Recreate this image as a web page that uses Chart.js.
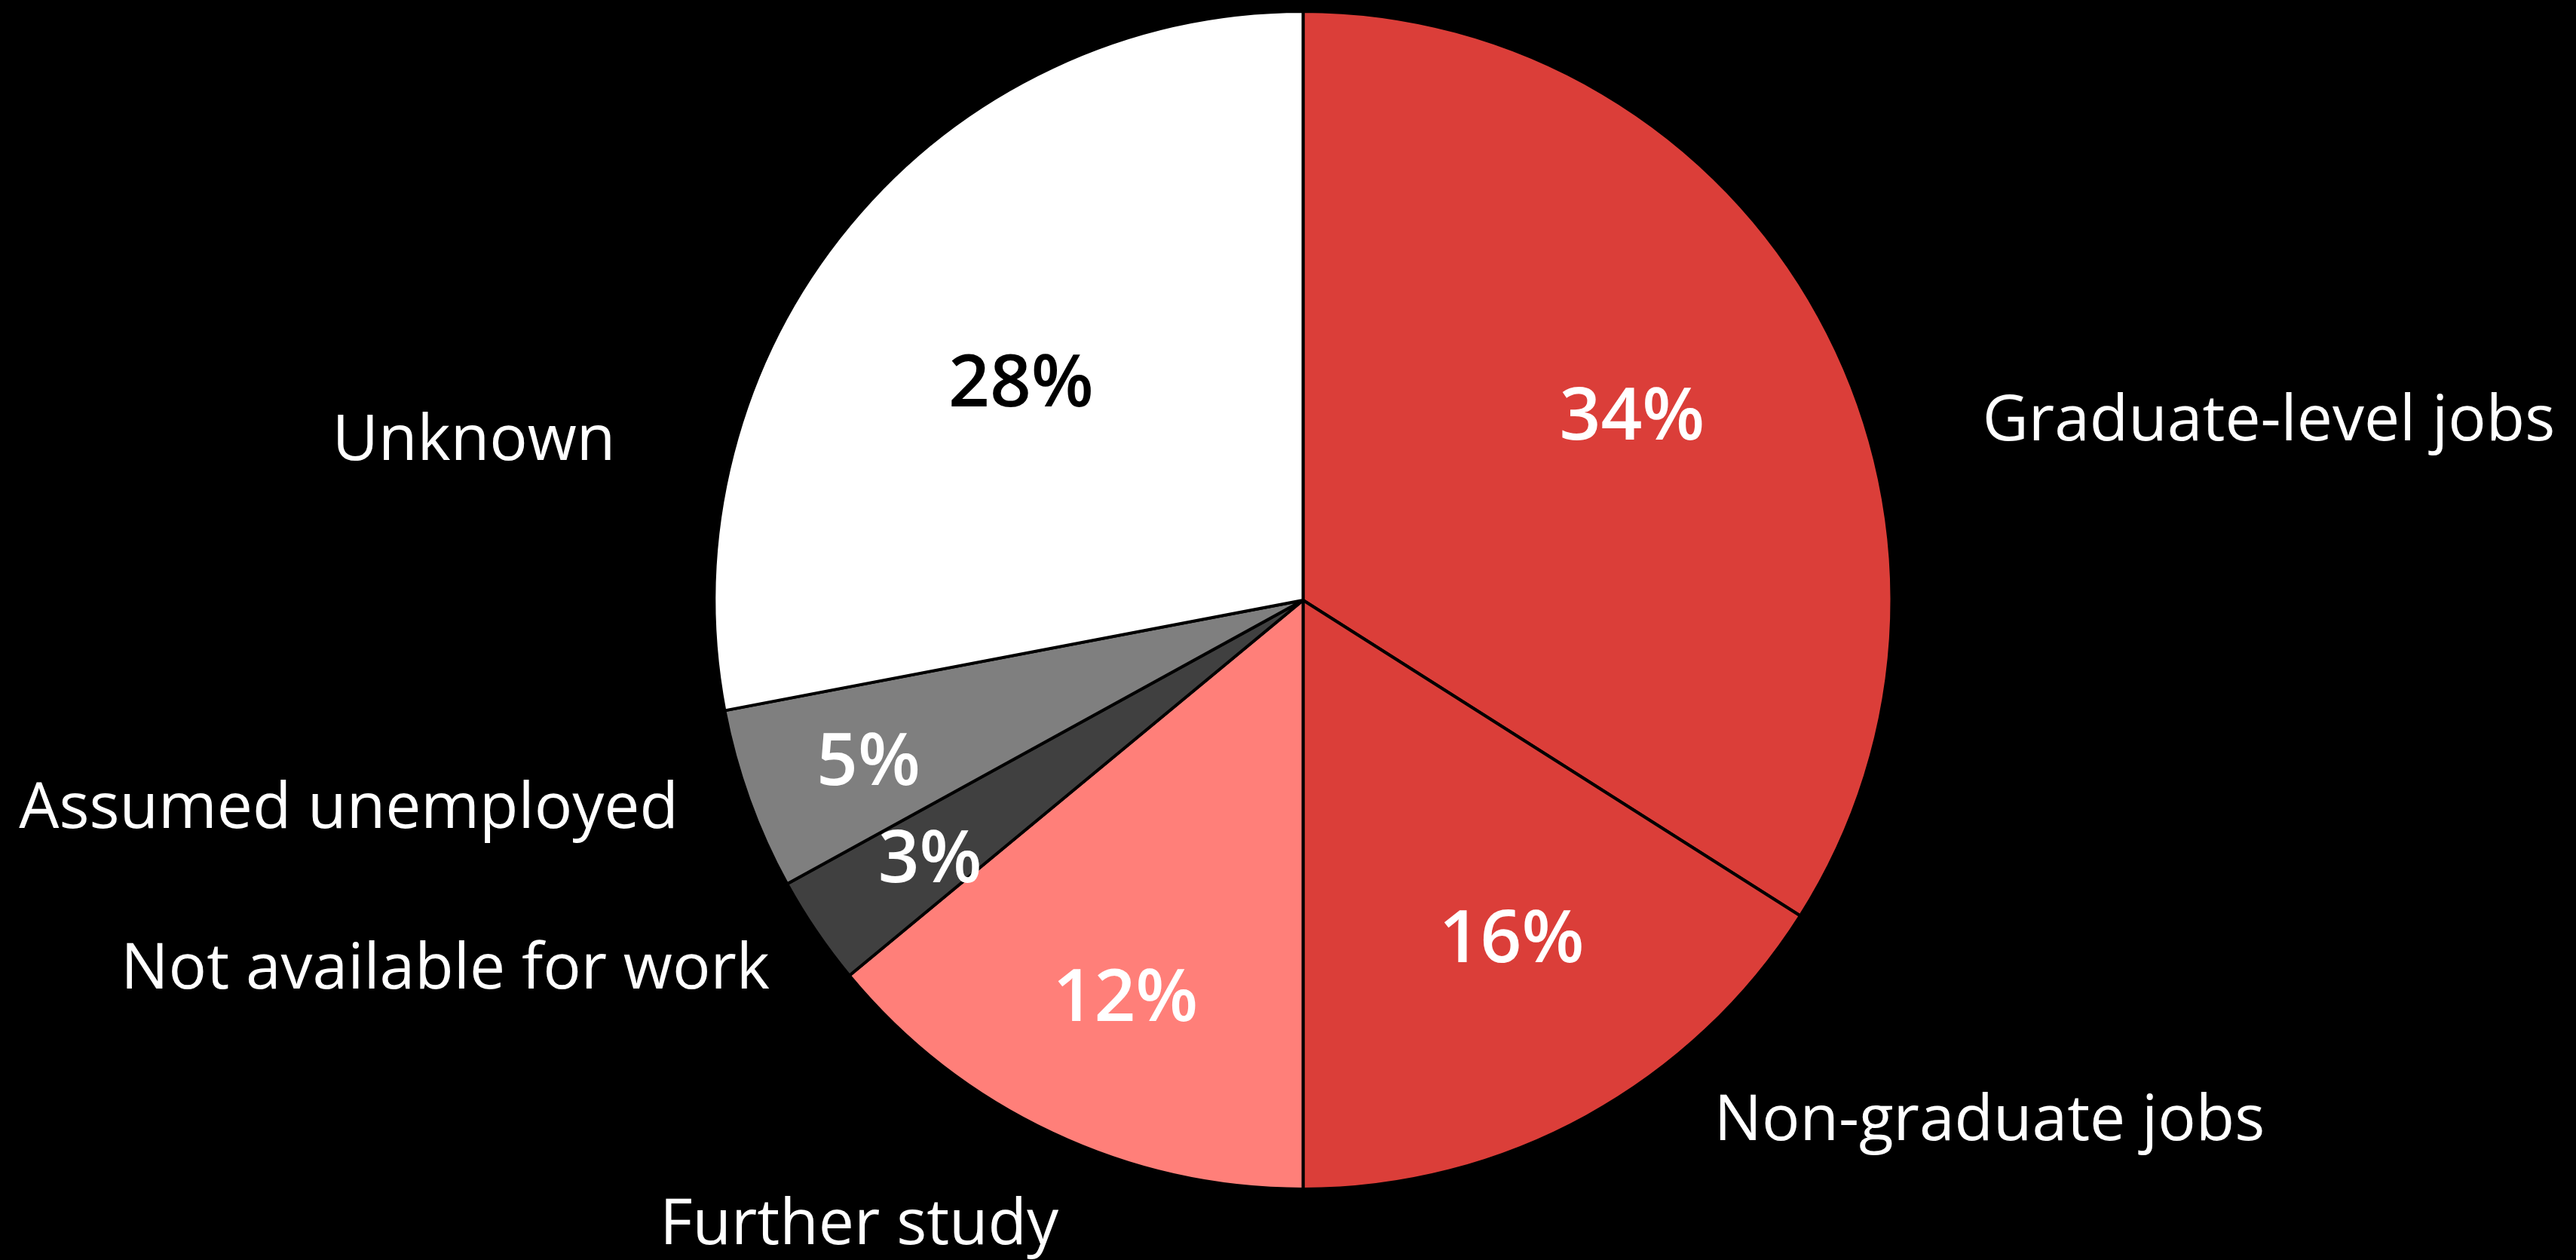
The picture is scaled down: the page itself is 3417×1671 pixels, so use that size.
<!DOCTYPE html>
<html>
<head>
<meta charset="utf-8">
<title>Graduate outcomes</title>
<script src="https://cdn.jsdelivr.net/npm/chart.js@4.4.1/dist/chart.umd.min.js"></script>
<style>
    html, body { margin: 0; padding: 0; background: #000; }
    #wrap { width: 3417px; height: 1671px; }
</style>
</head>
<body>
<div id="wrap"><canvas id="pieChart"></canvas></div>
<script>
// Data
const categories = ['Graduate-level jobs', 'Non-graduate jobs', 'Further study', 'Not available for work', 'Assumed unemployed', 'Unknown'];
const shares = [34, 16, 14, 3, 5, 28];
const shareLabels = ['34%', '16%', '12%', '3%', '5%', '28%'];

const sliceColors = ['#db3e39', '#db3e39', '#ff7f79', '#404040', '#7f7f7f', '#ffffff'];
const pctColors = ['#fff', '#fff', '#fff', '#fff', '#fff', '#000'];

// Draws the percentage inside each slice and the category name outside it
const pieLabels = {
    id: 'pieLabels',
    afterDatasetsDraw(chart, args, opts) {
        const ctx = chart.ctx;
        const arcs = chart.getDatasetMeta(0).data;
        ctx.save();
        arcs.forEach((arc, i) => {
            const p = arc.getProps(['x', 'y', 'startAngle', 'endAngle', 'outerRadius'], true);
            const mid = (p.startAngle + p.endAngle) / 2 + opts.insideTilt[i] * Math.PI / 180;
            const k = opts.insideRadius[i];

            // percentage, vertically centred on the digits
            ctx.font = '600 96px "Open Sans"';
            ctx.fillStyle = pctColors[i];
            ctx.textAlign = 'center';
            ctx.textBaseline = 'alphabetic';
            ctx.fillText(shareLabels[i],
                p.x + Math.cos(mid) * p.outerRadius * k,
                p.y + Math.sin(mid) * p.outerRadius * k + 34);

            // category name
            const o = opts.outside[i];
            ctx.font = '84px "Open Sans"';
            ctx.fillStyle = '#fff';
            ctx.textAlign = o.align;
            ctx.fillText(chart.data.labels[i], p.x + o.dx * p.outerRadius, p.y + o.dy * p.outerRadius);
        });
        ctx.restore();
    }
};

new Chart(document.getElementById('pieChart'), {
    type: 'pie',
    data: {
        labels: categories,
        datasets: [{
            data: shares,
            backgroundColor: sliceColors,
            borderColor: '#000',
            borderWidth: 4
        }]
    },
    options: {
        responsive: true,
        maintainAspectRatio: false,
        devicePixelRatio: 1,
        animation: false,
        layout: {
            padding: { top: 13, bottom: 92, left: 40, right: 0 }
        },
        plugins: {
            legend: { display: false },
            tooltip: { enabled: false },
            pieLabels: {
                insideRadius: [0.642, 0.672, 0.736, 0.769, 0.786, 0.607],
                insideTilt: [-0.7, -3, -1, -0.3, -0.3, -1.7],
                outside: [
                    { dx: 1.154, dy: -0.271, align: 'left' },
                    { dx: 0.698, dy: 0.917, align: 'left' },
                    { dx: -0.754, dy: 1.093, align: 'center' },
                    { dx: -0.906, dy: 0.659, align: 'right' },
                    { dx: -1.061, dy: 0.387, align: 'right' },
                    { dx: -1.168, dy: -0.238, align: 'right' }
                ]
            }
        }
    },
    plugins: [pieLabels]
});
</script>
</body>
</html>
